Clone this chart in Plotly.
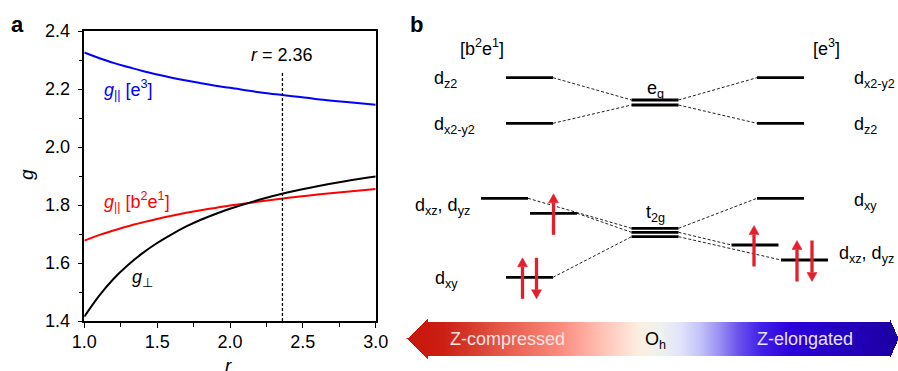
import numpy as np
import plotly.graph_objects as go

FONT = "Liberation Sans, Arial, Helvetica, sans-serif"

# ---------------- panel a data ----------------
r_vals = [1.0, 1.1, 1.2, 1.3, 1.4, 1.5, 1.6, 1.7, 1.8, 1.9, 2.0, 2.2, 2.4, 2.6, 2.8, 3.0]
g_par_e3 = [2.326, 2.307, 2.290, 2.276, 2.262, 2.250, 2.239, 2.229, 2.220, 2.211, 2.204,
            2.189, 2.177, 2.165, 2.155, 2.146]
g_par_b2e1 = [1.677, 1.696, 1.712, 1.727, 1.740, 1.752, 1.763, 1.773, 1.782, 1.790, 1.798,
              1.812, 1.825, 1.836, 1.846, 1.855]
g_perp = [1.415, 1.486, 1.545, 1.593, 1.634, 1.669, 1.699, 1.726, 1.749, 1.769, 1.787,
          1.818, 1.844, 1.865, 1.883, 1.898]
r_marker = 2.36
r_marker_top = 2.256
x_ticks = [1.0, 1.5, 2.0, 2.5, 3.0]
y_ticks = [1.4, 1.6, 1.8, 2.0, 2.2, 2.4]

# ---------------- panel b data (schematic diagram units) ----------------
col_x = {"L": 529.5, "Lo": 504.5, "Ls": 553.5, "C": 655.0, "R": 780.5, "Rs1": 755.0, "Rs2": 804.5}
LEVEL_W = 47
levels = [("L", 77.7), ("L", 123.3), ("C", 100.0), ("C", 105.0), ("R", 77.7), ("R", 123.3),
          ("Lo", 198.3), ("Ls", 213.3), ("L", 277.3), ("C", 228.3), ("C", 232.3), ("C", 236.7),
          ("R", 198.3), ("Rs1", 245.0), ("Rs2", 260.0)]
connectors = [(0, 2), (1, 3), (2, 4), (3, 5), (6, 9), (7, 10), (8, 11), (9, 12), (10, 13), (11, 14)]
electrons = [(7, 0.0, "up"), (8, -7.0, "up"), (8, 7.0, "down"),
             (13, -1.0, "up"), (14, -7.5, "up"), (14, 7.5, "down")]

left_labels = [("d<sub>z2</sub>", 432, 77.7), ("d<sub>x2-y2</sub>", 432, 123.3),
               ("d<sub>xz</sub>, d<sub>yz</sub>", 413, 204.0), ("d<sub>xy</sub>", 433, 277.0)]
right_labels = [("d<sub>x2-y2</sub>", 852, 77.7), ("d<sub>z2</sub>", 852, 123.3),
                ("d<sub>xy</sub>", 852, 199.0), ("d<sub>xz</sub>, d<sub>yz</sub>", 837, 252.0)]
center_labels = [("e<sub>g</sub>", 655, 89.0), ("t<sub>2g</sub>", 655, 213.0)]
config_labels = [("[b<sup>2</sup>e<sup>1</sup>]", 482, 47.5), ("[e<sup>3</sup>]", 826, 47.5)]

grad_stops = [(0.00, "#c8150c"), (0.07, "#cc1e12"), (0.13, "#d63a2c"), (0.19, "#e45848"),
              (0.25, "#f07060"), (0.31, "#fa8a7c"), (0.37, "#ffb0a4"), (0.42, "#ffd0c4"),
              (0.47, "#fbeee0"), (0.515, "#eef2ee"), (0.555, "#e2e4fa"), (0.595, "#c4c4f8"),
              (0.635, "#9a90f2"), (0.675, "#6a50ec"), (0.72, "#4020e8"), (0.78, "#2c00dc"),
              (0.865, "#2400c4"), (0.94, "#2000b0"), (1.00, "#1c00a0")]
ARROW_X0, ARROW_X1, HEAD_L, HEAD_R = 407, 898, 428, 889
ARROW_YC, BODY_HALF, HEAD_HALF = 338.5, 16.5, 20.5

RED = "#e41e2b"

fig = go.Figure()

# ---------------- panel a ----------------
fig.add_trace(go.Scatter(x=r_vals, y=g_par_e3, mode="lines", line=dict(color="#0000ff", width=2, shape="spline"),
                         xaxis="x", yaxis="y", hoverinfo="skip"))
fig.add_trace(go.Scatter(x=r_vals, y=g_par_b2e1, mode="lines", line=dict(color="#ff0000", width=2, shape="spline"),
                         xaxis="x", yaxis="y", hoverinfo="skip"))
fig.add_trace(go.Scatter(x=r_vals, y=g_perp, mode="lines", line=dict(color="#000000", width=2, shape="spline"),
                         xaxis="x", yaxis="y", hoverinfo="skip"))
fig.add_trace(go.Scatter(x=[r_marker, r_marker], y=[1.4, r_marker_top], mode="lines",
                         line=dict(color="#000000", width=1.3, dash="3px,2px"),
                         xaxis="x", yaxis="y", hoverinfo="skip"))

# ---------------- panel b: gradient arrow ----------------
gx = np.arange(ARROW_X0, ARROW_X1 + 0.5, 1.0)
gy = np.arange(ARROW_YC - HEAD_HALF, ARROW_YC + HEAD_HALF + 0.25, 0.5)
Z = np.full((len(gy), len(gx)), np.nan)
for j, xv in enumerate(gx):
    if xv < HEAD_L:
        half = (xv - ARROW_X0) / (HEAD_L - ARROW_X0) * HEAD_HALF
    elif xv > HEAD_R:
        half = (ARROW_X1 - xv) / (ARROW_X1 - HEAD_R) * HEAD_HALF
    else:
        half = BODY_HALF
    mask = np.abs(gy - ARROW_YC) <= half
    Z[mask, j] = xv
fig.add_trace(go.Heatmap(x=gx, y=gy, z=Z, zmin=ARROW_X0, zmax=ARROW_X1,
                         colorscale=[[s, c] for s, c in grad_stops], showscale=False,
                         hoverinfo="skip", xaxis="x2", yaxis="y2"))

# levels
lx, ly = [], []
for col, yv in levels:
    cx = col_x[col]
    lx += [cx - LEVEL_W / 2, cx + LEVEL_W / 2, None]
    ly += [yv, yv, None]
fig.add_trace(go.Scatter(x=lx, y=ly, mode="lines", line=dict(color="#000000", width=2.8),
                         xaxis="x2", yaxis="y2", hoverinfo="skip"))
# connectors
cxs, cys = [], []
for a, b in connectors:
    ca, ya = levels[a]
    cb, yb = levels[b]
    cxs += [col_x[ca] + LEVEL_W / 2, col_x[cb] - LEVEL_W / 2, None]
    cys += [ya, yb, None]
fig.add_trace(go.Scatter(x=cxs, y=cys, mode="lines", line=dict(color="#222222", width=1, dash="3px,2px"),
                         xaxis="x2", yaxis="y2", hoverinfo="skip"))
# electrons (spin arrows)
HALF_LEN, HEAD_LEN, HEAD_W = 20.5, 9, 10
for idx, dx, spin in electrons:
    col, yv = levels[idx]
    x = col_x[col] + dx
    yc = yv + 1
    if spin == "up":
        tip, tail, base = yc - HALF_LEN, yc + HALF_LEN, yc - HALF_LEN + HEAD_LEN
    else:
        tip, tail, base = yc + HALF_LEN, yc - HALF_LEN, yc + HALF_LEN - HEAD_LEN
    fig.add_trace(go.Scatter(x=[x, x], y=[tail, base], mode="lines", line=dict(color=RED, width=3.3),
                             xaxis="x2", yaxis="y2", hoverinfo="skip"))
    fig.add_trace(go.Scatter(x=[x - HEAD_W / 2, x + HEAD_W / 2, x, x - HEAD_W / 2],
                             y=[base, base, tip, base], mode="lines", fill="toself",
                             fillcolor=RED, line=dict(color=RED, width=0.5),
                             xaxis="x2", yaxis="y2", hoverinfo="skip"))

ann = []
TF = dict(family=FONT, size=18, color="#000000")
for txt, x, y in left_labels + right_labels:
    ann.append(dict(x=x, y=y + 2, xref="x2", yref="y2", text=txt, showarrow=False,
                    xanchor="left", yanchor="middle", font=TF))
for txt, x, y in center_labels + config_labels:
    ann.append(dict(x=x, y=y, xref="x2", yref="y2", text=txt, showarrow=False,
                    xanchor="center", yanchor="middle", font=TF))
ann.append(dict(x=507, y=338.5, xref="x2", yref="y2", text="Z-compressed", showarrow=False,
                font=dict(family=FONT, size=18, color="#f6e4e2")))
ann.append(dict(x=655, y=340.5, xref="x2", yref="y2", text="O<sub>h</sub>", showarrow=False,
                font=TF))
ann.append(dict(x=805, y=338.5, xref="x2", yref="y2", text="Z-elongated", showarrow=False,
                font=dict(family=FONT, size=18, color="#e6e2ff")))

# panel a annotations
ann.append(dict(x=1.30, y=2.197, xref="x", yref="y", text="<i>g</i><sub>||</sub> [e<sup>3</sup>]",
                showarrow=False, font=dict(family=FONT, size=18, color="#0000ff")))
ann.append(dict(x=1.36, y=1.811, xref="x", yref="y", text="<i>g</i><sub>||</sub> [b<sup>2</sup>e<sup>1</sup>]",
                showarrow=False, font=dict(family=FONT, size=18, color="#ff0000")))
ann.append(dict(x=1.40, y=1.548, xref="x", yref="y", text="<i>g</i><sub>⊥</sub>",
                showarrow=False, font=dict(family=FONT, size=18, color="#000000")))
ann.append(dict(x=r_marker, y=2.317, xref="x", yref="y", text="<i>r</i> = 2.36",
                showarrow=False, font=dict(family=FONT, size=18, color="#000000")))
# axis titles (as annotations for exact placement)
ann.append(dict(x=26 / 898, y=1 - 175 / 371, xref="paper", yref="paper", text="<i>g</i>", textangle=-90,
                showarrow=False, xanchor="center", yanchor="middle", font=dict(family=FONT, size=19, color="#000000")))
ann.append(dict(x=228 / 898, y=1 - 365 / 371, xref="paper", yref="paper", text="<i>r</i>",
                showarrow=False, xanchor="center", yanchor="middle", font=dict(family=FONT, size=19, color="#000000")))
# panel letters
ann.append(dict(x=17 / 898, y=1 - 24 / 371, xref="paper", yref="paper", text="<b>a</b>", showarrow=False,
                xanchor="center", yanchor="middle", font=dict(family=FONT, size=22, color="#000000")))
ann.append(dict(x=416 / 898, y=1 - 24 / 371, xref="paper", yref="paper", text="<b>b</b>", showarrow=False,
                xanchor="center", yanchor="middle", font=dict(family=FONT, size=22, color="#000000")))

axis_common = dict(showline=True, linecolor="#000000", linewidth=1.5, mirror=True, showgrid=False,
                   zeroline=False, ticks="outside", ticklen=5, tickwidth=1.3, tickcolor="#000000",
                   automargin=False,
                   tickfont=dict(family=FONT, size=18, color="#000000"))

fig.update_layout(
    template="none",
    font=dict(family=FONT, color="#000000"),
    width=898, height=371, margin=dict(l=0, r=0, t=0, b=0, pad=0),
    paper_bgcolor="#ffffff", plot_bgcolor="#ffffff", showlegend=False,
    annotations=ann,
    xaxis=dict(domain=[84.3 / 898, 375.7 / 898], range=[1.0, 3.0], tickvals=x_ticks,
               ticktext=[f"{v:.1f}" for v in x_ticks], ticklabelstandoff=-1,
               minor=dict(ticks="outside", ticklen=4, tickwidth=1.3, tickcolor="#000000", dtick=0.25, tick0=1.0),
               **axis_common),
    yaxis=dict(domain=[1 - 321 / 371, 1 - 31 / 371], range=[1.4, 2.4], tickvals=y_ticks,
               ticktext=[f"{v:.1f}" for v in y_ticks], ticklabelstandoff=4,
               minor=dict(ticks="outside", ticklen=4, tickwidth=1.3, tickcolor="#000000", dtick=0.1, tick0=1.4),
               **axis_common),
    xaxis2=dict(domain=[400 / 898, 1.0], range=[400, 898], visible=False, anchor="y2", automargin=False),
    yaxis2=dict(domain=[0.0, 1.0], range=[371, 0], visible=False, anchor="x2", automargin=False),
)

fig.write_html("out.html", config={"displayModeBar": False},
               post_script="document.body.style.margin='0';document.body.style.overflow='hidden';")
